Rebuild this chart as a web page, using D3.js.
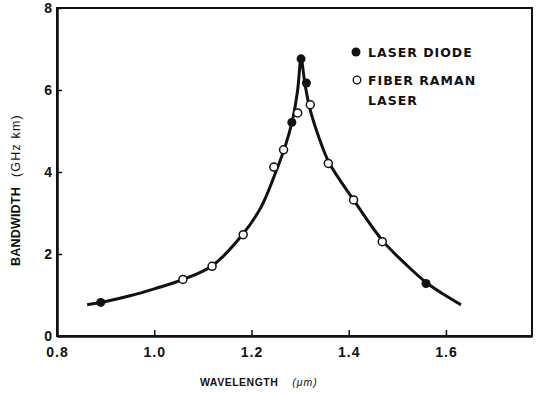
<!DOCTYPE html>
<html>
<head>
<meta charset="utf-8">
<script src="https://cdn.jsdelivr.net/npm/d3@7"></script>
<style>
  body { margin: 0; background: #fff; }
  svg text { font-family: "Liberation Sans", Arial, sans-serif; fill: #111; }
</style>
</head>
<body>
<div id="chart"></div>
<script>
// data
var xTicks = [0.8, 1.0, 1.2, 1.4, 1.6];
var yTicks = [0, 2, 4, 6, 8];

// filled circles
var laserDiode = [
    [0.890, 0.82], [1.283, 5.21], [1.302, 6.76], [1.313, 6.17], [1.559, 1.28]
];
// open circles
var fiberRaman = [
    [1.059, 1.38], [1.119, 1.70], [1.183, 2.47], [1.246, 4.12], [1.266, 4.54],
    [1.295, 5.44], [1.321, 5.64], [1.358, 4.21], [1.410, 3.32], [1.469, 2.30]
];
// the drawn fit curve
var fitCurve = [
    [0.862, 0.76], [0.90, 0.84], [0.95, 0.98], [1.00, 1.15], [1.06, 1.38],
    [1.12, 1.72], [1.18, 2.45], [1.22, 3.15], [1.25, 4.00], [1.27, 4.65],
    [1.285, 5.30], [1.295, 6.00], [1.302, 6.75], [1.31, 6.15], [1.32, 5.55],
    [1.34, 4.80], [1.36, 4.22], [1.41, 3.32], [1.47, 2.32], [1.52, 1.72],
    [1.56, 1.30], [1.60, 0.98], [1.631, 0.76]
];

var margin = {top: 8, right: 7, bottom: 57, left: 57},
    width = 539 - margin.left - margin.right,
    height = 393 - margin.top - margin.bottom;

var x = d3.scaleLinear().domain([0.8, 1.777]).range([0, width]);
var y = d3.scaleLinear().domain([0, 8]).range([height, 0]);

var svg = d3.select("#chart").append("svg")
    .attr("width", 539)
    .attr("height", 393)
    .append("g")
    .attr("transform", "translate(" + margin.left + "," + margin.top + ")");

// frame
svg.append("rect")
    .attr("width", width)
    .attr("height", height)
    .attr("fill", "none")
    .attr("stroke", "#111")
    .attr("stroke-width", 2);

// axes, ticks point inward
var xAxis = svg.append("g")
    .attr("transform", "translate(0," + height + ")")
    .call(d3.axisBottom(x).tickValues(xTicks).tickFormat(d3.format(".1f"))
        .tickSizeInner(-6).tickSizeOuter(0).tickPadding(8));
var yAxis = svg.append("g")
    .call(d3.axisLeft(y).tickValues(yTicks).tickFormat(d3.format("d"))
        .tickSizeInner(-5).tickSizeOuter(0).tickPadding(5));

[xAxis, yAxis].forEach(function(a) {
    a.select(".domain").attr("stroke", "#111").attr("stroke-width", 2.5);
    a.selectAll(".tick line").attr("stroke", "#111").attr("stroke-width", 1.5);
    a.selectAll(".tick text")
        .attr("fill", "#111")
        .style("font-size", "14px")
        .style("font-weight", "bold");
});
xAxis.selectAll(".tick text").attr("dy", "0.9em").style("letter-spacing", "1px");

// fit curve
var line = d3.line()
    .x(function(d) { return x(d[0]); })
    .y(function(d) { return y(d[1]); })
    .curve(d3.curveCatmullRom.alpha(0.5));

svg.append("path")
    .datum(fitCurve)
    .attr("fill", "none")
    .attr("stroke", "#111")
    .attr("stroke-width", 3)
    .attr("d", line);

// points
svg.selectAll("circle.raman")
    .data(fiberRaman)
    .enter().append("circle")
    .attr("class", "raman")
    .attr("cx", function(d) { return x(d[0]); })
    .attr("cy", function(d) { return y(d[1]); })
    .attr("r", 4)
    .attr("fill", "#fff")
    .attr("stroke", "#111")
    .attr("stroke-width", 1.5);

svg.selectAll("circle.diode")
    .data(laserDiode)
    .enter().append("circle")
    .attr("class", "diode")
    .attr("cx", function(d) { return x(d[0]); })
    .attr("cy", function(d) { return y(d[1]); })
    .attr("r", 4.5)
    .attr("fill", "#111");

// legend
var lg = svg.append("g").attr("transform", "translate(299,0)");
var legendText = function(txt, yy) {
    lg.append("text").attr("x", 12).attr("y", yy)
        .style("font-family", "'DejaVu Sans', sans-serif")
        .style("font-size", "12.5px").style("font-weight", "bold")
        .style("letter-spacing", "1px")
        .text(txt);
};
lg.append("circle").attr("cx", 0).attr("cy", 44).attr("r", 4.5).attr("fill", "#111");
legendText("LASER DIODE", 49);
lg.append("circle").attr("cx", 1).attr("cy", 72).attr("r", 3.8)
    .attr("fill", "#fff").attr("stroke", "#111").attr("stroke-width", 1.3);
legendText("FIBER RAMAN", 77);
legendText("LASER", 97);

// axis titles
var xt = svg.append("text")
    .attr("x", 143)
    .attr("y", height + 50)
    .style("font-size", "10.5px");
xt.append("tspan").style("font-weight", "bold").style("letter-spacing", "0.5px").text("WAVELENGTH");
xt.append("tspan").attr("dx", 14).style("font-style", "italic").style("letter-spacing", "1px").text("(μm)");

var yt = svg.append("text")
    .attr("transform", "translate(-37," + (190 - margin.top) + ") rotate(-90)")
    .attr("text-anchor", "middle")
    .style("font-size", "12.5px");
yt.append("tspan").style("font-weight", "bold").style("letter-spacing", "0.2px").text("BANDWIDTH");
yt.append("tspan").attr("dx", 10).style("letter-spacing", "1.2px").text("(GHz   km)");
</script>
</body>
</html>
